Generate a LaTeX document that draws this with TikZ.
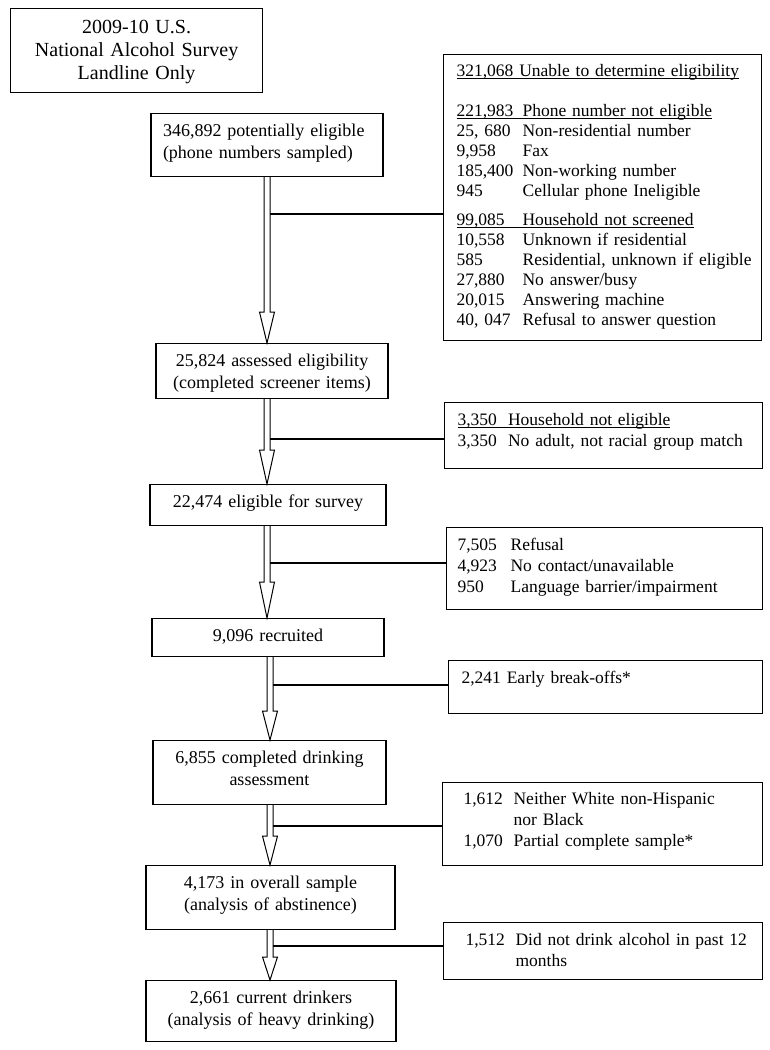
\documentclass[tikz,border=0pt]{standalone}
\usepackage{fontspec}
\setmainfont{Liberation Serif}
\usetikzlibrary{calc,positioning}
\tikzset{%
      etape/.style={draw, line width=1.2pt, anchor=north, text centered, inner xsep=0pt, inner ysep=0pt, text height=23pt, font=\fontsize{18}{21.5}\selectfont},
      titre/.style={etape, anchor=north west, text height=25pt, font=\fontsize{20}{23}\selectfont},
      motif/.style={draw, line width=1.2pt, anchor=north west, align=left, inner xsep=13pt, inner ysep=0pt, text width=292pt, text height=23pt, font=\fontsize{17.5}{21}\selectfont},
      flecha/.style={draw, line width=1pt, fill=white},
      line/.style={draw, line width=1.2pt},
    }
\newcommand{\etape}[3]{node (p#1) [etape, #2] {#3}}
\newcommand{\motif}[3]{node (r#1) [motif, #2] {#3}}
\newcommand{\fila}[3][50pt]{\mbox{\makebox[#1][l]{#2}#3}}
\newcommand{\souligne}[1]{\leavevmode\setbox0\hbox{#1}\rlap{\rule[-2.2pt]{\wd0}{0.9pt}}\box0}
\newcommand{\flecha}[4]{%
      \path [flecha] ($(#1.south -| #3)+(-3,0)$) -- ($(#2.north -| #3)+(-3,-#4)$) -- ++(-4.5,0) -- (#2.north -| #3) -- ++(7.5,-#4) -- ++(-4.5,0) -- ($(#1.south -| #3)+(3,0)$);}

\begin{document}
\begin{tikzpicture}[x=1pt, y=-1pt]
      \useasboundingbox (0,0) rectangle (770,1050);

      % Draw diagram elements
      \path (10,8) \etape{0}{titre, text width=252pt, text depth=59pt}{2009-10 U.S.\\National Alcohol Survey\\Landline Only};

      \path (267,113) \etape{1}{text width=208pt, inner xsep=12pt, align=left, text depth=40pt, font=\fontsize{18}{22}\selectfont}{346,892 potentially eligible\\(phone numbers sampled)};
      \path (272,343) \etape{2}{text width=232pt, text depth=32pt}{25,824 assessed eligibility\\(completed screener items)};
      \path (268,484) \etape{3}{text width=236pt, text depth=18pt}{22,474 eligible for survey};
      \path (268,618) \etape{4}{text width=232pt, text depth=15pt}{9,096 recruited};
      \path (269.5,740) \etape{5}{text width=233pt, text depth=41pt}{6,855 completed drinking\\assessment};
      \path (270.5,865) \etape{6}{text width=249pt, text depth=41pt}{4,173 in overall sample\\(analysis of abstinence)};
      \path (271,980) \etape{7}{text width=250pt, text depth=38pt}{2,661 current drinkers\\(analysis of heavy drinking)};

      % Excluded cases
      \path (443,54) \motif{1}{text height=22pt, text depth=264pt, font=\fontsize{17.5}{20}\selectfont}{%
            \souligne{321,068 Unable to determine eligibility}\\[20pt]
            \souligne{\fila[66pt]{221,983}{Phone number not eligible}}\\
            \fila[66pt]{25, 680}{Non-residential number}\\
            \fila[66pt]{9,958}{Fax}\\
            \fila[66pt]{185,400}{Non-working number}\\
            \fila[66pt]{945}{Cellular phone Ineligible}\\[9pt]
            \souligne{\fila[66pt]{99,085}{Household not screened}}\\
            \fila[66pt]{10,558}{Unknown if residential}\\
            \fila[66pt]{585}{Residential, unknown if eligible}\\
            \fila[66pt]{27,880}{No answer/busy}\\
            \fila[66pt]{20,015}{Answering machine}\\
            \fila[66pt]{40, 047}{Refusal to answer question}};
      \path (444,402) \motif{2}{text depth=43pt}{%
            \souligne{\fila[50.5pt]{3,350}{Household not eligible}}\\
            \fila[50.5pt]{3,350}{No adult, not racial group match}};
      \path (446,527) \motif{3}{inner xsep=11pt, text width=294pt, text depth=59pt}{%
            \fila[53pt]{7,505}{Refusal}\\
            \fila[53pt]{4,923}{No contact/unavailable}\\
            \fila[53pt]{950}{Language barrier/impairment}};
      \path (448,660) \motif{4}{text width=288pt, text depth=30pt}{2,241 Early break-offs*};
      \path (442,782) \motif{5}{inner xsep=21pt, text width=278pt, text height=22pt, text depth=61pt}{%
            \fila{1,612}{Neither White non-Hispanic}\\
            \fila{}{nor Black}\\
            \fila{1,070}{Partial complete sample*}};
      \path (443,922) \motif{6}{inner xsep=22pt, text width=275pt, text depth=34pt}{%
            \fila{1,512}{Did not drink alcohol in past 12}\\
            \fila{}{months}};

      % Draw arrows between elements
      \coordinate (e1) at (267,0);
      \coordinate (e2) at (270,0);
      \flecha{p1}{p2}{e1}{31}
      \flecha{p2}{p3}{e1}{34}
      \flecha{p3}{p4}{e1}{36}
      \flecha{p4}{p5}{e2}{29}
      \flecha{p5}{p6}{e2}{29}
      \flecha{p6}{p7}{e2}{23}

      % Branches to the excluded cases
      \coordinate (c1) at (270,214);
      \coordinate (c2) at (270,439);
      \coordinate (c3) at (270,563);
      \coordinate (c4) at (273,685);
      \coordinate (c5) at (273,826);
      \coordinate (c6) at (273,946);
      \path [line] (c1) -- (c1 -| r1.west);
      \path [line] (c2) -- (c2 -| r2.west);
      \path [line] (c3) -- (c3 -| r3.west);
      \path [line] (c4) -- (c4 -| r4.west);
      \path [line] (c5) -- (c5 -| r5.west);
      \path [line] (c6) -- (c6 -| r6.west);

\end{tikzpicture}
\end{document}
